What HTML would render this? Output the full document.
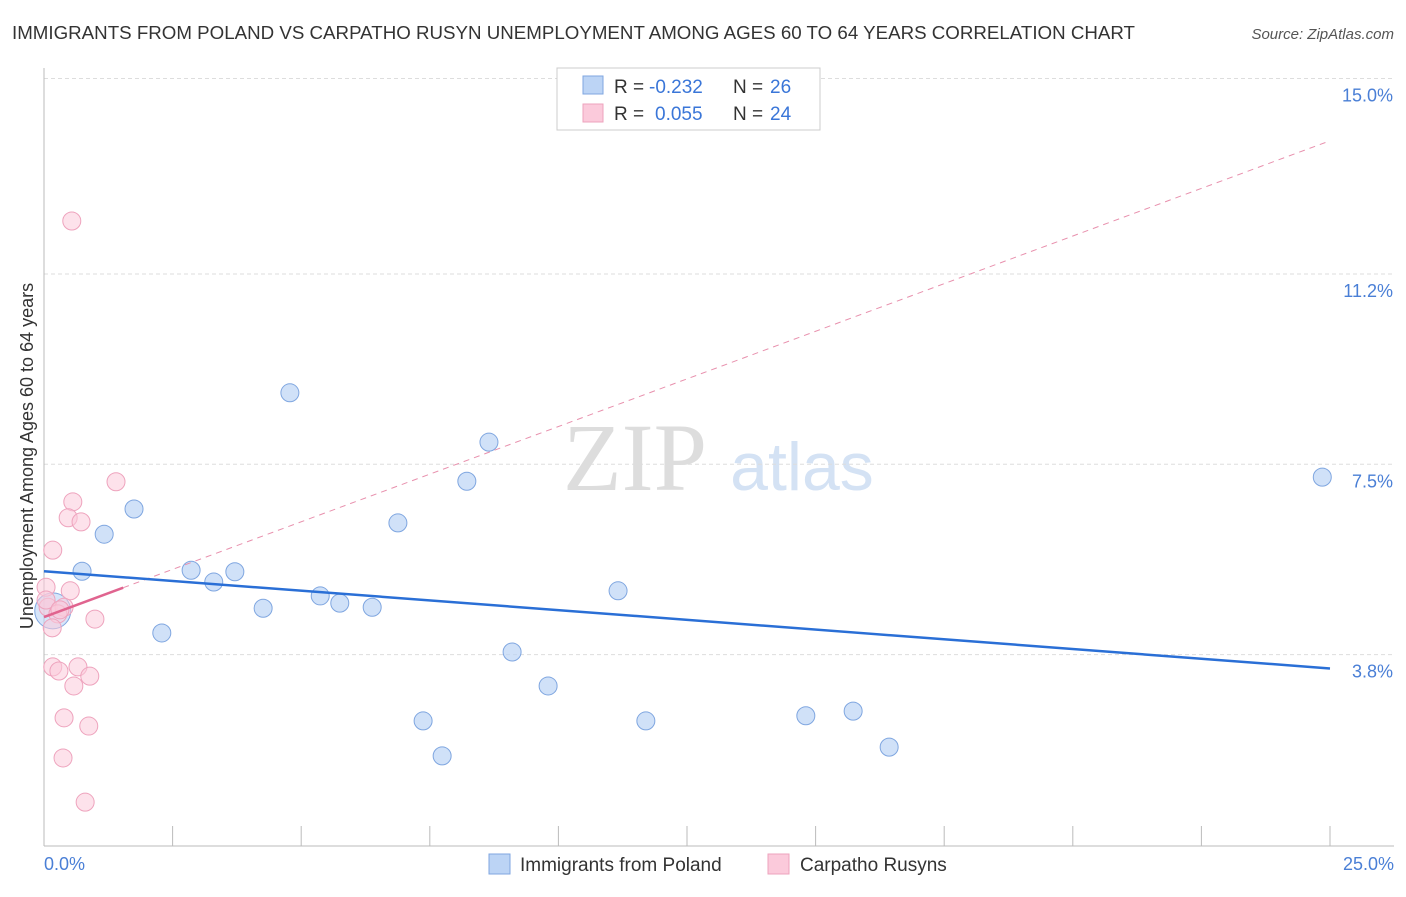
<!DOCTYPE html>
<html><head><meta charset="utf-8"><style>
body{margin:0;background:#fff;font-family:"Liberation Sans",sans-serif}
</style></head><body>
<svg width="1406" height="892" xmlns="http://www.w3.org/2000/svg" font-family="Liberation Sans, sans-serif">
<text x="12" y="39" font-size="18" fill="#333" textLength="1123" lengthAdjust="spacingAndGlyphs">IMMIGRANTS FROM POLAND VS CARPATHO RUSYN UNEMPLOYMENT AMONG AGES 60 TO 64 YEARS CORRELATION CHART</text>
<text x="1394" y="39" font-size="15" fill="#555" font-style="italic" text-anchor="end">Source: ZipAtlas.com</text>
<text x="635" y="490" font-size="96" fill="#ddd" font-family="Liberation Serif, serif" text-anchor="middle">ZIP</text>
<text x="802" y="490" font-size="68" fill="#d4e2f4" text-anchor="middle">atlas</text>
<g id="grid"></g>
<line x1="44" y1="68" x2="44" y2="846" stroke="#bbb"/>
<line x1="44" y1="846" x2="1394" y2="846" stroke="#bbb"/>
<g id="xt"></g>
<text x="33" y="456" font-size="18" fill="#333" text-anchor="middle" transform="rotate(-90 33 456)">Unemployment Among Ages 60 to 64 years</text>
<text x="44" y="870" font-size="18" fill="#4a7fd6">0.0%</text>
<text x="1394" y="870" font-size="18" fill="#4a7fd6" text-anchor="end">25.0%</text>
<g id="pts"></g>
<g>
<rect x="557" y="68" width="263" height="62" fill="#fff" stroke="#ccc"/>
<rect x="583" y="76" width="20" height="18" fill="#bcd4f5" stroke="#7fa6e0"/>
<rect x="583" y="104" width="20" height="18" fill="#fbcadb" stroke="#eea3bd"/>
<text x="614" y="93" font-size="19" fill="#333">R =</text>
<text x="649" y="93" font-size="19" fill="#3a76d8">-0.232</text>
<text x="733" y="93" font-size="19" fill="#333">N =</text>
<text x="770" y="93" font-size="19" fill="#3a76d8">26</text>
<text x="614" y="120" font-size="19" fill="#333">R =</text>
<text x="655" y="120" font-size="19" fill="#3a76d8">0.055</text>
<text x="733" y="120" font-size="19" fill="#333">N =</text>
<text x="770" y="120" font-size="19" fill="#3a76d8">24</text>
</g>
<g>
<rect x="489" y="854" width="21" height="20" fill="#bcd4f5" stroke="#7fa6e0"/>
<text x="520" y="871" font-size="19" fill="#333">Immigrants from Poland</text>
<rect x="768" y="854" width="21" height="20" fill="#fbcadb" stroke="#eea3bd"/>
<text x="800" y="871" font-size="19" fill="#333">Carpatho Rusyns</text>
</g>
</svg>
<script>
const yTicks=[3.8,7.5,11.2,15.0];
const yTickLabels=["3.8%","7.5%","11.2%","15.0%"];
const xTicks=[0,2.5,5,7.5,10,12.5,15,17.5,20,22.5,25];
const polandX=[4.78,8.65,8.22,1.75,1.17,6.88,0.74,2.86,3.71,3.30,5.37,5.75,6.38,4.26,11.16,2.29,9.10,9.80,7.37,11.70,7.74,14.81,15.73,16.43,24.85,0.17];
const polandY=[8.89,7.93,7.17,6.63,6.14,6.36,5.42,5.44,5.41,5.21,4.94,4.80,4.72,4.70,5.04,4.22,3.85,3.19,2.51,2.51,1.83,2.61,2.70,2.00,7.25,4.65];
const rusynX=[1.40,0.56,0.47,0.72,0.17,0.54,0.04,0.51,0.08,0.39,0.27,0.99,0.16,0.17,0.29,0.66,0.58,0.89,0.39,0.87,0.37,0.80,0.04,0.31];
const rusynY=[7.16,6.77,6.46,6.38,5.83,12.23,5.11,5.04,4.72,4.72,4.59,4.49,4.32,3.56,3.48,3.56,3.19,3.38,2.57,2.41,1.79,0.93,4.86,4.67];
const polandTrend=[5.42,3.53];
const rusynTrend=[4.53,13.79];
const NS="http://www.w3.org/2000/svg";
const X=v=>44+v/25*1286, Y=v=>850-v*51.43;
function mk(t,a,p){const e=document.createElementNS(NS,t);for(const k in a)e.setAttribute(k,a[k]);document.getElementById(p).appendChild(e);return e;}
yTicks.forEach((t,i)=>{
 const l=mk('line',{x1:44,x2:1394,y1:Y(t),y2:Y(t),stroke:'#ddd','stroke-dasharray':'4,3'},'grid');
 
 
 const tx=mk('text',{x:1393,y:Y(t)+23,'font-size':18,fill:'#4a7fd6','text-anchor':'end'},'grid');
 tx.textContent=yTickLabels[i];
 
 
});
xTicks.forEach(t=>{
 const l=mk('line',{x1:X(t),x2:X(t),y1:826,y2:846,stroke:'#bbb'},'xt');
 
 
});
polandX.forEach((x,i)=>{
 const big=i===polandX.length-1;
 const c=mk('circle',{cx:X(x),cy:Y(polandY[i]),r:big?18:9,fill:'#bcd4f5','fill-opacity':big?0.6:0.7,stroke:'#7fa6e0'},'pts');
 
 
});
rusynX.forEach((x,i)=>{
 const c=mk('circle',{cx:X(x),cy:Y(rusynY[i]),r:9,fill:'#fbcadb','fill-opacity':0.55,stroke:'#eea3bd'},'pts');
 
 
});
const rAt=v=>rusynTrend[0]+(rusynTrend[1]-rusynTrend[0])*v/25;
const rd=mk('line',{x1:X(1.54),y1:Y(rAt(1.54)),x2:X(25),y2:Y(rAt(25)),stroke:'#e890ad','stroke-width':1,'stroke-dasharray':'6,5'},'pts');


const rs=mk('line',{x1:X(0),y1:Y(rAt(0)),x2:X(1.54),y2:Y(rAt(1.54)),stroke:'#e0648f','stroke-width':2.5},'pts');


const pl=mk('line',{x1:X(0),y1:Y(polandTrend[0]),x2:X(25),y2:Y(polandTrend[1]),stroke:'#2a6fd6','stroke-width':2.5},'pts');


</script>
</body></html>
